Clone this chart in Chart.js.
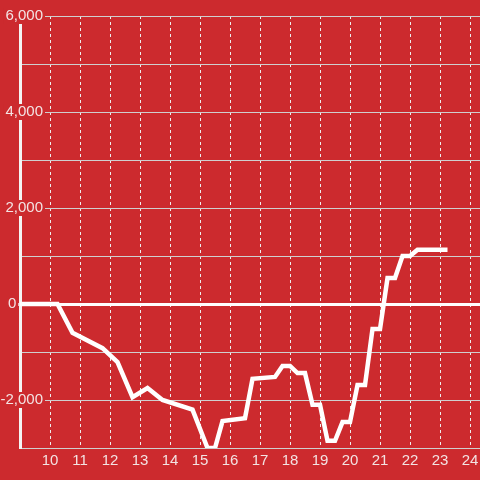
<!DOCTYPE html>
<html>
<head>
<meta charset="utf-8">
<script src="https://cdn.jsdelivr.net/npm/chart.js@4/dist/chart.umd.min.js"></script>
<style>
  html, body { margin: 0; padding: 0; background: #cc2a2e; }
  #wrap { width: 480px; height: 480px; }
</style>
</head>
<body>
<div id="wrap"><canvas id="chart" width="480" height="480"></canvas></div>
<script>
// hour of day (quarter steps) and running total
const hours = [9, 10.25, 10.75, 11.75, 12.25, 12.75, 13.25, 13.75, 14.75, 15.25, 15.5, 15.75,
  16.5, 16.75, 17.5, 17.75, 18, 18.25, 18.5, 18.75, 19, 19.25, 19.5, 19.75, 20,
  20.25, 20.5, 20.75, 21, 21.25, 21.5, 21.75, 22, 22.25, 23.25];
const balance = [0, 0, -600, -920, -1210, -1940, -1750, -2000, -2200, -3000, -3000, -2440,
  -2380, -1560, -1520, -1290, -1290, -1440, -1440, -2100, -2100, -2850, -2850, -2460, -2460,
  -1690, -1690, -520, -520, 540, 540, 1000, 1000, 1130, 1130];
const hourTicks = [10, 11, 12, 13, 14, 15, 16, 17, 18, 19, 20, 21, 22, 23, 24];
const valueLabels = [6000, 4000, 2000, 0, -2000];

const BG = '#cc2a2e';
const TEXT = '#f3e3e3';
const FONT = '"Liberation Sans", Arial, sans-serif';

// y labels sit over the axis line with a red backdrop
const yLabels = {
  id: 'yLabels',
  afterDraw(chart) {
    const { ctx, scales: { y } } = chart;
    ctx.save();
    ctx.font = '15px ' + FONT;
    ctx.textBaseline = 'middle';
    valueLabels.forEach(v => {
      const text = v.toLocaleString('en-US');
      const py = y.getPixelForValue(v);
      const w = ctx.measureText(text).width;
      const left = v === 0 ? 8 : 43 - w;
      ctx.fillStyle = BG;
      ctx.fillRect(left - 2, py - 8, w + 4, 16);
      ctx.fillStyle = TEXT;
      ctx.textAlign = 'left';
      ctx.fillText(text, left, py);
    });
    ctx.restore();
  },
};

new Chart(document.getElementById('chart'), {
  type: 'line',
  data: {
    datasets: [{
      data: hours.map((h, i) => ({ x: h, y: balance[i] })),
      borderColor: '#ffffff',
      borderWidth: 4.5,
      borderJoinStyle: 'miter',
      pointRadius: 0,
      tension: 0,
      clip: 0,
    }],
  },
  options: {
    responsive: false,
    animation: false,
    layout: { padding: { top: 16, right: 0, left: 0, bottom: 0 } },
    plugins: {
      legend: { display: false },
      tooltip: { enabled: false },
    },
    scales: {
      x: {
        type: 'linear',
        min: 9,
        max: 24.333,
        z: -1,
        afterBuildTicks: scale => {
          scale.ticks = hourTicks.map(v => ({ value: v }));
        },
        afterFit: scale => {
          scale.height = 32;
          scale.paddingLeft = 0;
          scale.paddingRight = 0;
        },
        grid: {
          color: '#eeeeee',
          lineWidth: 1,
          drawTicks: false,
        },
        border: { display: false, dash: [3, 3] },
        ticks: {
          color: TEXT,
          font: { family: FONT, size: 15 },
          padding: 4,
          maxRotation: 0,
          autoSkip: false,
        },
      },
      y: {
        type: 'linear',
        min: -3000,
        max: 6000,
        z: 0,
        afterFit: scale => { scale.width = 20; },
        grid: {
          color: ctx => ctx.tick && ctx.tick.value === 0 ? '#ffffff' : '#cfcfcf',
          lineWidth: ctx => ctx.tick && ctx.tick.value === 0 ? 3 : 1,
          drawTicks: true,
          tickLength: 2,
          tickColor: ctx => ctx.tick && ctx.tick.value === 0 ? '#ffffff' : 'rgba(0,0,0,0)',
          tickWidth: 3,
        },
        border: { display: true, color: '#f4f4f4', width: 3 },
        ticks: { display: false, stepSize: 1000 },
      },
    },
  },
  plugins: [yLabels],
});
</script>
</body>
</html>
